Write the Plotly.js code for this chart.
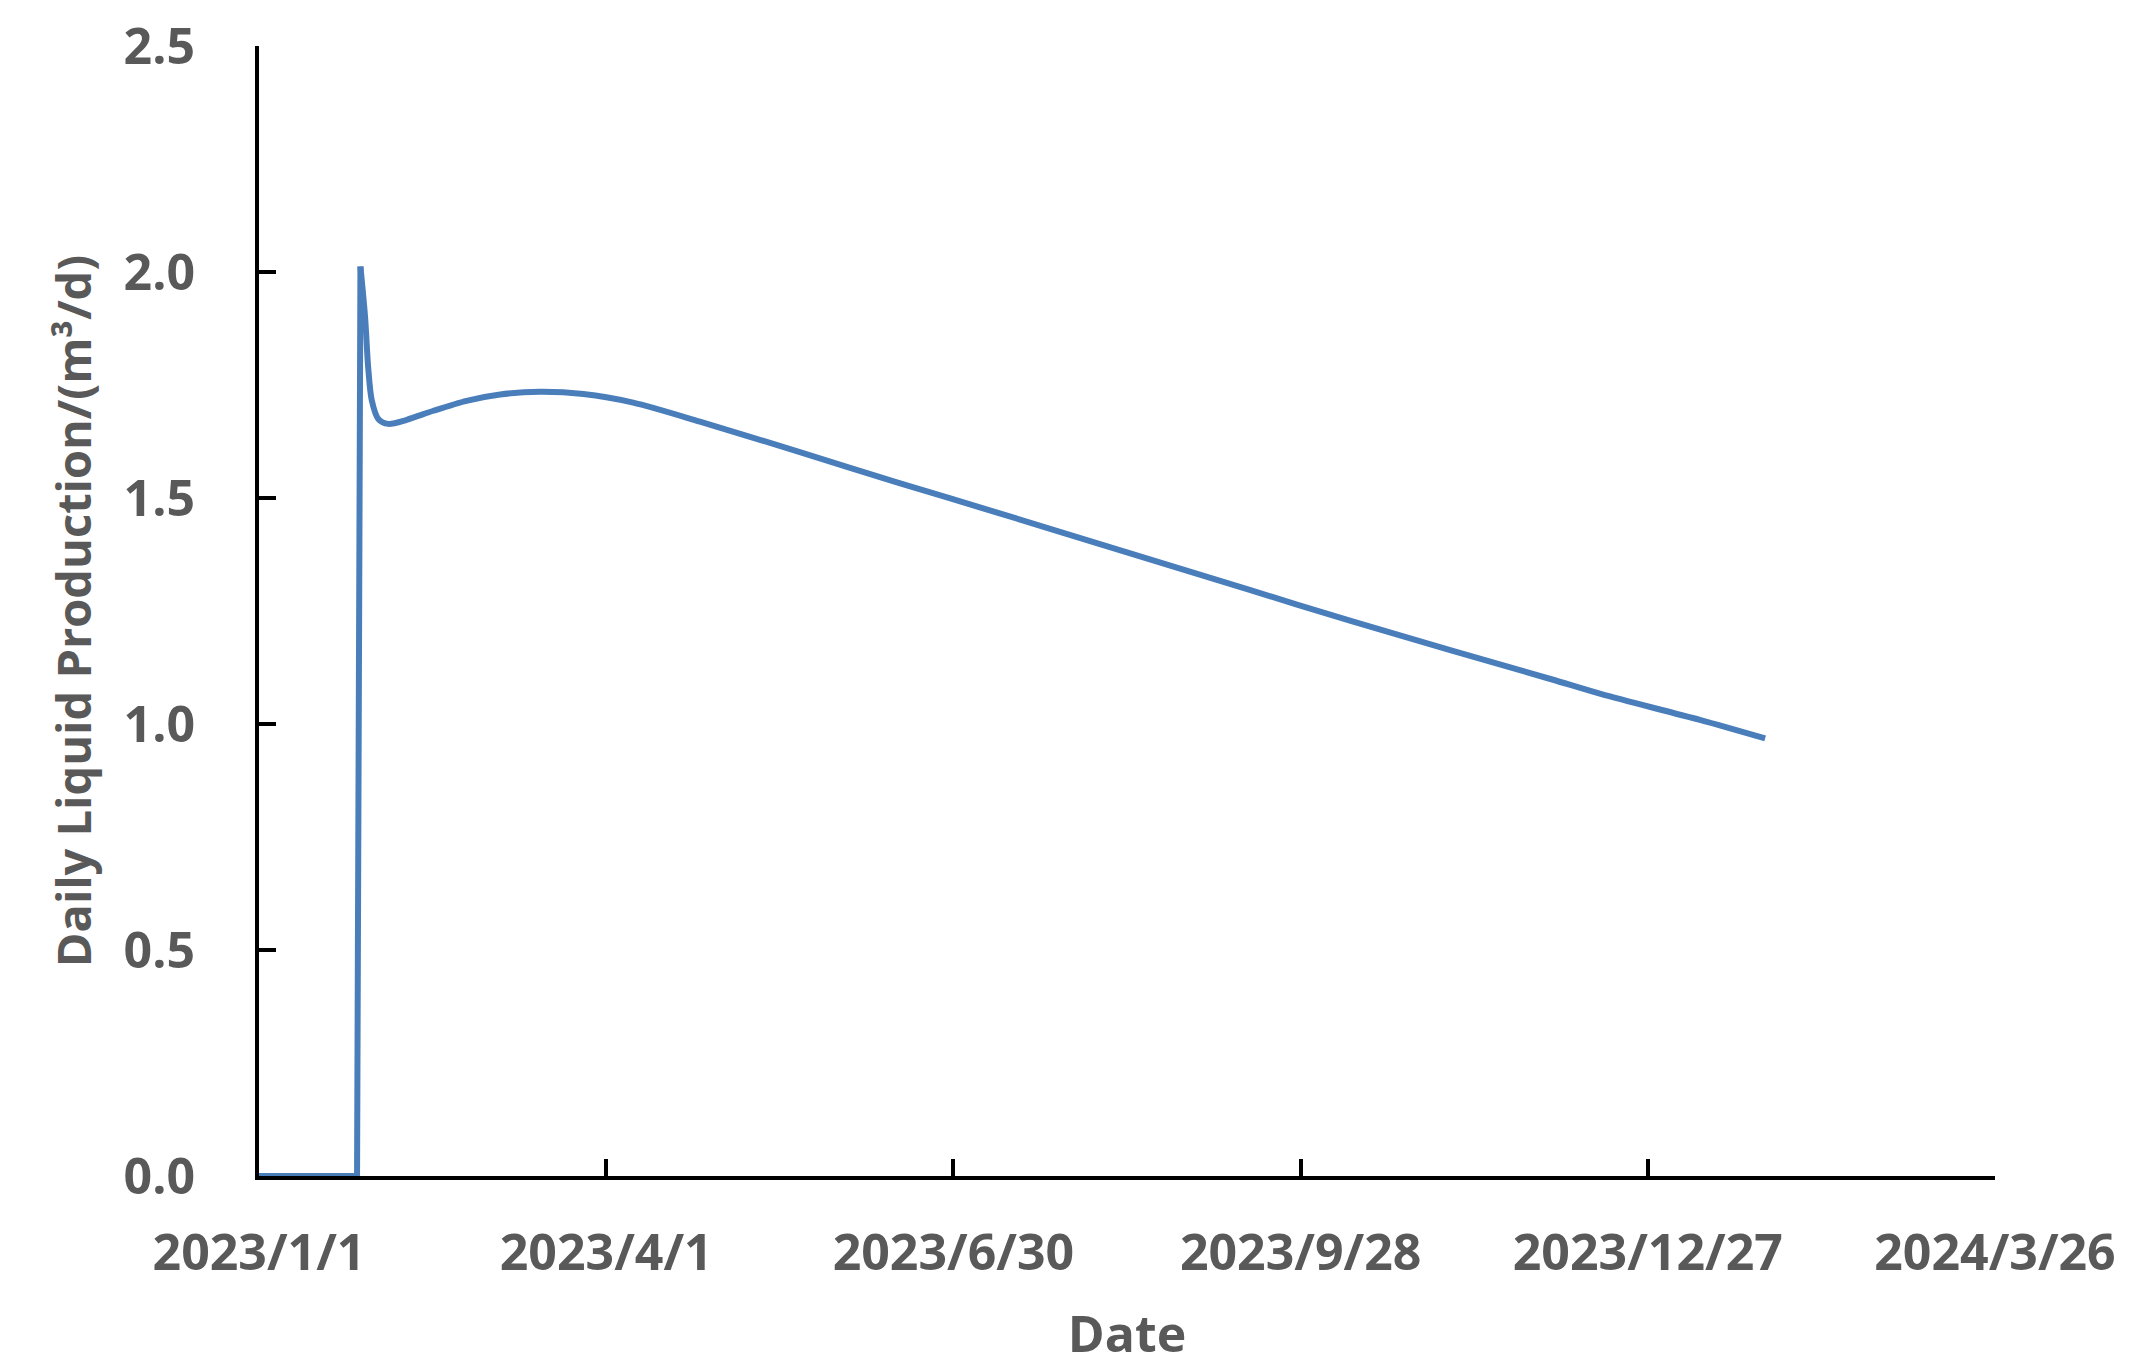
<!DOCTYPE html>
<html>
<head>
<meta charset="utf-8">
<script src="https://cdn.plot.ly/plotly-3.0.1.min.js"></script>
<style>
  html, body { margin: 0; padding: 0; background: #ffffff; }
  #chart { width: 2138px; height: 1370px; }
</style>
</head>
<body>
<div id="chart"></div>
<script>
// Dates of the readings (sub-day timestamps around the start-up spike)
const dates = [
  "2023-01-01", "2023-01-26 10:00", "2023-01-27 07:00", "2023-01-28 12:00",
  "2023-01-29 07:00", "2023-01-30 05:00", "2023-01-31 22:00", "2023-02-03 12:00",
  "2023-02-08 07:00", "2023-02-15 05:00", "2023-02-23 19:00", "2023-03-04 12:00",
  "2023-03-14 19:00", "2023-03-26 02:00", "2023-04-08", "2023-04-25 07:00",
  "2023-05-21", "2023-06-16", "2023-07-12", "2023-08-07",
  "2023-09-15", "2023-10-11", "2023-11-06", "2023-12-02",
  "2023-12-15", "2024-01-09 12:00", "2024-01-26 10:00"
];
// Daily liquid production, m³/d
const production = [
  0.000, 0.000, 2.012, 1.900,
  1.790, 1.717, 1.675, 1.664,
  1.673, 1.693, 1.715, 1.729,
  1.735, 1.730, 1.711, 1.669,
  1.602, 1.533, 1.466, 1.398,
  1.296, 1.228, 1.163, 1.099,
  1.066, 1.009, 0.968
];
// X-axis ticks
const xTickVals = ["2023-01-01", "2023-04-01", "2023-06-30", "2023-09-28", "2023-12-27", "2024-03-26"];
const xTickText = ["2023/1/1", "2023/4/1", "2023/6/30", "2023/9/28", "2023/12/27", "2024/3/26"];
const yTickVals = [0, 0.5, 1.0, 1.5, 2.0, 2.5];
const yTickText = ["0.0", "0.5", "1.0", "1.5", "2.0", "2.5"];

const peakIndex = production.indexOf(Math.max(...production));

const textFont = { family: "Open Sans, sans-serif", size: 50, color: "#595959", weight: 700 };
const yTitleFont = { family: "Open Sans, sans-serif", size: 47, color: "#595959", weight: 700 };
const lineStyle = { color: "#4A7EBB", width: 6 };

// Start-up (zero period and sharp rise) drawn with straight segments
const riseTrace = {
  type: "scatter", mode: "lines",
  x: dates.slice(0, peakIndex + 1),
  y: production.slice(0, peakIndex + 1),
  line: Object.assign({}, lineStyle),
  cliponaxis: false
};
// Decline after the peak drawn smoothly
const declineTrace = {
  type: "scatter", mode: "lines",
  x: dates.slice(peakIndex),
  y: production.slice(peakIndex),
  line: Object.assign({ shape: "spline", smoothing: 0.8 }, lineStyle),
  cliponaxis: false
};

const layout = {
  width: 2138,
  height: 1370,
  paper_bgcolor: "#ffffff",
  plot_bgcolor: "#ffffff",
  showlegend: false,
  margin: { l: 259, r: 143, t: 46, b: 194 },
  xaxis: {
    type: "date",
    range: ["2023-01-01", "2024-03-26"],
    tickmode: "array",
    tickvals: xTickVals,
    ticktext: xTickText,
    ticks: "inside",
    ticklen: 17,
    tickwidth: 4,
    tickcolor: "#000000",
    showline: true,
    linecolor: "#000000",
    linewidth: 4,
    showgrid: false,
    zeroline: false,
    layer: "below traces",
    tickfont: textFont,
    ticklabelstandoff: 30,
    title: { text: "Date", font: textFont, standoff: 34 }
  },
  yaxis: {
    range: [0, 2.5],
    tickmode: "array",
    tickvals: yTickVals,
    ticktext: yTickText,
    ticks: "inside",
    ticklen: 17,
    tickwidth: 4,
    tickcolor: "#000000",
    showline: true,
    linecolor: "#000000",
    linewidth: 4,
    showgrid: false,
    zeroline: false,
    layer: "below traces",
    tickfont: textFont,
    ticklabelstandoff: 50,
    title: { text: "Daily Liquid Production/(m³/d)", font: yTitleFont, standoff: 18 }
  }
};

Plotly.newPlot("chart", [riseTrace, declineTrace], layout, { displayModeBar: false, staticPlot: true });
</script>
</body>
</html>
